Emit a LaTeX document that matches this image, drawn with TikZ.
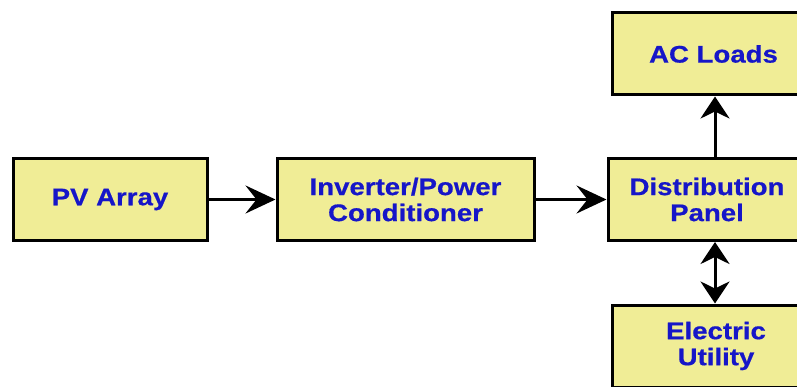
\documentclass[tikz,border=0pt]{standalone}
\usepackage{fontspec}
\setmainfont[FakeStretch=1.15,FakeBold=0.6]{Liberation Sans}
\usetikzlibrary{arrows.meta}
\definecolor{boxfill}{RGB}{240,237,150}
\definecolor{txtblue}{RGB}{22,22,200}
\tikzset{
  blk/.style={draw=black, line width=3pt, fill=boxfill, minimum height=82pt,
    inner sep=0pt, align=center, text=txtblue,
    font=\fontsize{24}{26}\selectfont\bfseries},
  tipx/.tip={Stealth[length=30pt,width=28pt,inset=11pt]},
  tipv/.tip={Stealth[length=22pt,width=29pt,inset=7pt]},
  conn/.style={line width=3pt, -tipx},
  connv/.style={line width=3pt, -tipv},
  conn2/.style={line width=3pt, tipv-tipv}
}
\begin{document}
\begin{tikzpicture}[x=1pt,y=1pt]
\useasboundingbox (0,0) rectangle (797,386);
\clip (0,0) rectangle (797,386);
\node[blk, minimum width=194pt] (pv) at (110,186.5) {PV Array};
\node[blk, minimum width=257pt] (inv) at (405.5,186.5) {Inverter/Power\\Conditioner};
\node[blk, minimum width=198pt] (dist) at (707,186.5) {Distribution\\Panel};
\node[blk, minimum width=203pt] (ac) at (713.5,332) {AC Loads};
\node[blk, minimum width=208pt] (eu) at (716,40) {Electric\\Utility};
\draw[conn] (pv.east) -- (inv.west);
\draw[conn] (inv.east) -- (dist.west);
\draw[connv] (dist.north -| 715,0) -- (ac.south -| 715,0);
\draw[conn2] (dist.south -| 715,0) -- (eu.north -| 715,0);
\end{tikzpicture}
\end{document}
